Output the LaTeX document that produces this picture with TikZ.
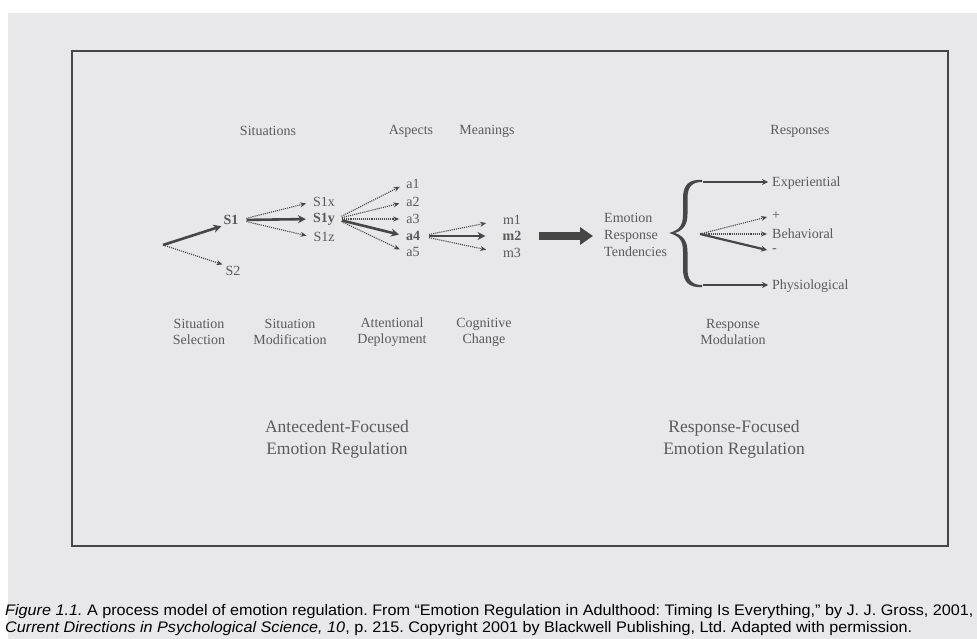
\documentclass[tikz,border=0pt]{standalone}
\usepackage{fontspec}
\setmainfont{Liberation Serif}
\newfontfamily\capfont[FakeStretch=1.058]{Liberation Sans}
\usetikzlibrary{arrows.meta}
\definecolor{pagebg}{RGB}{232,232,234}
\definecolor{txtc}{RGB}{90,90,90}
\definecolor{linec}{RGB}{70,70,70}
\tikzset{
  lbl/.style={text=txtc, font=\fontsize{14}{16}\selectfont, inner sep=1pt},
  blbl/.style={lbl, font=\fontsize{14}{16}\selectfont\bfseries},
  two/.style={lbl, align=center},
  big/.style={text=txtc, font=\fontsize{17.5}{22}\selectfont, align=center, inner sep=0pt},
  dotarr/.style={draw=linec, densely dotted, line width=1.1pt, -{Stealth[length=6pt,width=5pt]}},
  thickarr/.style={draw=linec, line width=2.6pt, -{Stealth[length=8pt,width=8pt]}},
  solidarr/.style={draw=linec, line width=2.2pt, -{Stealth[length=6pt,width=6pt]}},
  bigarr/.style={draw=linec, line width=8pt, -{Triangle[length=13pt,width=17pt]}},
}
\begin{document}
\frenchspacing
\begin{tikzpicture}[x=1pt,y=-1pt]
\useasboundingbox (0,0) rectangle (977,639);
\fill[white] (0,0) rectangle (977,639);
\fill[pagebg] (8,13) rectangle (977,639);
\draw[linec, line width=1.5pt] (72,51) rectangle (948,546);

% column titles
\node[lbl] (tsit) at (268,131) {Situations};
\node[lbl] (tasp) at (411,131) {Aspects};
\node[lbl] (tmea) at (487,131) {Meanings};
\node[lbl] (tres) at (800,131) {Responses};

% situations
\coordinate (r0) at (163,245);
\node[blbl] (S1) at (231,220) {S1};
\node[lbl] (S2) at (233,271) {S2};
\draw[thickarr, shorten >=1pt] (r0) -- (S1.south west);
\draw[dotarr, shorten >=2pt] (r0) -- (S2.north west);

\node[lbl] (S1x) at (324,202) {S1x};
\node[blbl] (S1y) at (324,219) {S1y};
\node[lbl] (S1z) at (324,237) {S1z};
\draw[dotarr, shorten <=7pt, shorten >=6pt] (S1.east) -- (S1x.west);
\draw[thickarr, shorten <=7pt, shorten >=6pt] (S1.east) -- (S1y.west);
\draw[dotarr, shorten <=7pt, shorten >=6pt] (S1.east) -- (S1z.west);

% aspects
\node[lbl] (a1) at (413,184) {a1};
\node[lbl] (a2) at (413,202) {a2};
\node[lbl] (a3) at (413,219) {a3};
\node[blbl] (a4) at (413,236) {a4};
\node[lbl] (a5) at (413,252) {a5};
\draw[dotarr, shorten <=6pt, shorten >=6pt] (S1y.east) -- (a1.west);
\draw[dotarr, shorten <=6pt, shorten >=6pt] (S1y.east) -- (a2.west);
\draw[dotarr, shorten <=6pt, shorten >=6pt] (S1y.east) -- (a3.west);
\draw[thickarr, shorten <=6pt, shorten >=6pt] (S1y.east) -- (a4.west);
\draw[dotarr, shorten <=6pt, shorten >=6pt] (S1y.east) -- (a5.west);

% meanings
\node[lbl] (m1) at (512,220) {m1};
\node[blbl] (m2) at (512,236) {m2};
\node[lbl] (m3) at (512,253) {m3};
\draw[dotarr, shorten <=8pt, shorten >=16pt] (a4.east) -- (m1.west);
\draw[thickarr, shorten <=8pt, shorten >=16pt] (a4.east) -- (m2.west);
\draw[dotarr, shorten <=8pt, shorten >=16pt] (a4.east) -- (m3.west);

% emotion response tendencies
\node[lbl, align=left, anchor=west, font=\fontsize{14}{17}\selectfont] (ert) at (603,235) {Emotion\\Response\\Tendencies};
\draw[bigarr, shorten <=16pt, shorten >=10pt] (m2.east) -- (ert.west |- m2.east);

% brace (tapered, filled)
\fill[linec]
  (702,180) .. controls (689,179) and (683,185) .. (683,198) -- (683,214)
  .. controls (683,225) and (680,230) .. (669,233)
  .. controls (680,236) and (683,241) .. (683,252) -- (683,269)
  .. controls (683,282) and (689,288) .. (702,287)
  -- (702,285)
  .. controls (692,285) and (687.5,280) .. (687.5,269) -- (687.5,252)
  .. controls (687.5,242) and (684,236) .. (675,233)
  .. controls (684,230) and (687.5,224) .. (687.5,214) -- (687.5,198)
  .. controls (687.5,187) and (692,182) .. (702,182) -- cycle;

% responses
\node[lbl, anchor=west] (exp) at (771,183) {Experiential};
\node[lbl, anchor=west] (plus) at (771,216) {+};
\node[lbl, anchor=west] (beh) at (771,234) {Behavioral};
\node[lbl, anchor=west] (minus) at (771,251) {-};
\node[lbl, anchor=west] (phy) at (771,286) {Physiological};
\coordinate (eo) at (703,182);
\coordinate (po) at (703,285);
\coordinate (bo) at (700,234);
\draw[solidarr, shorten >=3pt] (eo) -- (exp.west |- eo);
\draw[solidarr, shorten >=3pt] (po) -- (phy.west |- po);
\draw[dotarr, shorten >=4pt] (bo) -- (plus.west);
\draw[dotarr, shorten >=4pt] (bo) -- (beh.west);
\draw[solidarr, shorten >=4pt] (bo) -- (minus.west);

% process labels
\node[two] (ss) at (199,332) {Situation\\Selection};
\node[two] (sm) at (290,332) {Situation\\Modification};
\node[two] (ad) at (392,332) {Attentional\\Deployment};
\node[two] (cc) at (484,332) {Cognitive\\Change};
\node[two] (rm) at (733,332) {Response\\Modulation};

\node[big] (afer) at (337,439) {Antecedent-Focused\\Emotion Regulation};
\node[big] (rfer) at (734,439) {Response-Focused\\Emotion Regulation};

% caption
\node[anchor=west, align=left, inner sep=0pt, font=\capfont\fontsize{15.3}{17}\selectfont] (cap) at (5,620)
{\textit{Figure 1.1.} A process model of emotion regulation. From “Emotion Regulation in Adulthood: Timing Is Everything,” by J. J. Gross, 2001,\\
\textit{Current Directions in Psychological Science, 10}, p. 215. Copyright 2001 by Blackwell Publishing, Ltd. Adapted with permission.};
\end{tikzpicture}
\end{document}
